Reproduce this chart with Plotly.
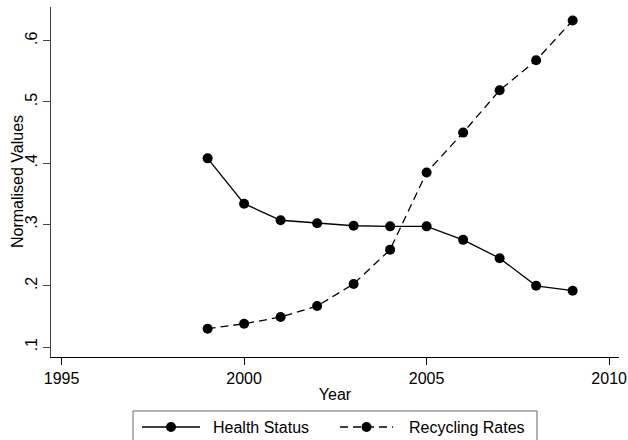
import plotly.graph_objects as go

# Yearly series, normalised
years = [1999, 2000, 2001, 2002, 2003, 2004, 2005, 2006, 2007, 2008, 2009]
health_status = [0.408, 0.334, 0.307, 0.302, 0.298, 0.297, 0.297, 0.275, 0.245, 0.200, 0.192]
recycling_rates = [0.130, 0.138, 0.149, 0.167, 0.203, 0.259, 0.385, 0.450, 0.519, 0.568, 0.633]

series_names = ["Health Status", "Recycling Rates"]
x_ticks = [1995, 2000, 2005, 2010]
y_ticks = [0.1, 0.2, 0.3, 0.4, 0.5, 0.6]
y_tick_labels = [".1", ".2", ".3", ".4", ".5", ".6"]

FONT = "Liberation Sans, Arial, sans-serif"
DASH = "8px,5px"

# Figure geometry (pixels)
W, H = 628, 440
ML, MR, MT, MB = 51, 9, 7, 83
PW, PH = W - ML - MR, H - MT - MB


def px_x(p):
    return (p - ML) / PW


def px_y(p):
    return (H - MB - p) / PH


fig = go.Figure()
fig.add_trace(go.Scatter(
    x=years, y=health_status, name=series_names[0],
    mode="lines+markers", showlegend=False,
    line=dict(color="black", width=1.3),
    marker=dict(color="black", size=10, symbol="circle"),
))
fig.add_trace(go.Scatter(
    x=years, y=recycling_rates, name=series_names[1],
    mode="lines+markers", showlegend=False,
    line=dict(color="black", width=1.3, dash=DASH),
    marker=dict(color="black", size=10, symbol="circle"),
))

# Legend box below the plot, drawn with shapes and text
shapes = [dict(
    type="rect", xref="paper", yref="paper",
    x0=px_x(133), x1=px_x(537), y0=px_y(411), y1=px_y(452),
    line=dict(color="#666666", width=1), fillcolor="rgba(0,0,0,0)",
    layer="above",
)]
annotations = []
legend_items = [
    (series_names[0], "solid", 142, 200, 211),
    (series_names[1], DASH, 340, 393, 407),
]
ly = px_y(427)
for name, dash, lx0, lx1, tx in legend_items:
    shapes.append(dict(
        type="line", xref="paper", yref="paper",
        x0=px_x(lx0), x1=px_x(lx1), y0=ly, y1=ly,
        line=dict(color="black", width=1.3, dash=dash),
    ))
    shapes.append(dict(
        type="circle", xref="paper", yref="paper",
        xsizemode="pixel", ysizemode="pixel",
        xanchor=px_x((lx0 + lx1) / 2), yanchor=ly,
        x0=-5, x1=5, y0=-5, y1=5,
        line=dict(color="black", width=0), fillcolor="black",
    ))
    annotations.append(dict(
        text=name, xref="paper", yref="paper",
        x=px_x(tx), y=ly, xanchor="left", yanchor="middle",
        showarrow=False, font=dict(family=FONT, size=16, color="black"),
    ))

# Y-axis title
annotations.append(dict(
    text="Normalised Values", xref="paper", yref="paper",
    x=px_x(17), y=0.5, xanchor="center", yanchor="middle",
    textangle=-90, showarrow=False,
    font=dict(family=FONT, size=16, color="black"),
))

fig.update_layout(
    width=W, height=H,
    margin=dict(l=ML, r=MR, t=MT, b=MB, autoexpand=False),
    paper_bgcolor="white", plot_bgcolor="white",
    font=dict(family=FONT, size=16, color="black"),
    showlegend=False,
    shapes=shapes,
    annotations=annotations,
)

fig.update_xaxes(
    range=[1994.71, 2010.27],
    tickvals=x_ticks,
    showgrid=False, zeroline=False,
    showline=True, linecolor="black", linewidth=1,
    ticks="outside", ticklen=7, tickcolor="black",
    tickfont=dict(size=16),
    title=dict(text="Year", font=dict(size=16), standoff=2),
)
fig.update_yaxes(
    range=[0.0838, 0.655],
    tickvals=y_ticks, ticktext=y_tick_labels,
    tickangle=-90,
    showgrid=False, zeroline=False,
    showline=True, linecolor="#444444", linewidth=1,
    ticks="outside", ticklen=7, tickcolor="#444444",
    tickfont=dict(size=16),
)

fig.write_html("out.html")
